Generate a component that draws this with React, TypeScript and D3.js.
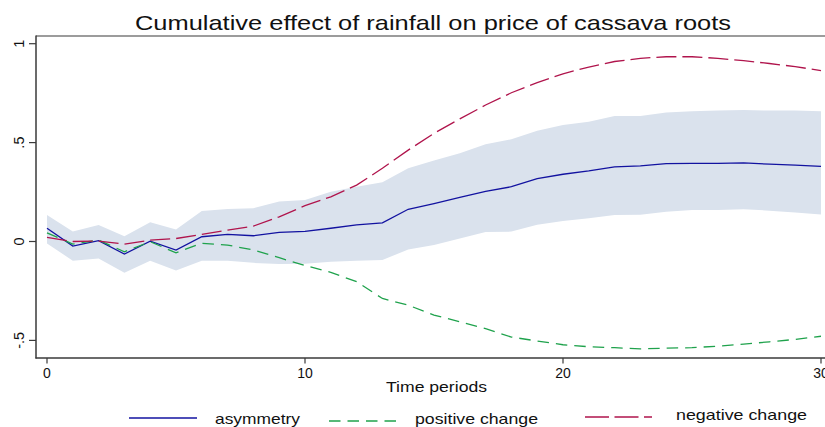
import React from "react";
import * as d3 from "d3";

const periods = d3.range(0, 31);

const asymmetry = [0.067, -0.023, 0.004, -0.063, 0.002, -0.043, 0.024, 0.036, 0.029, 0.046, 0.051, 0.067, 0.084, 0.094, 0.163, 0.192, 0.223, 0.253, 0.277, 0.318, 0.34, 0.357, 0.377, 0.382, 0.394, 0.395, 0.395, 0.397, 0.391, 0.386, 0.38];
const upperCI = [0.134, 0.05, 0.084, 0.027, 0.097, 0.061, 0.154, 0.164, 0.168, 0.202, 0.21, 0.252, 0.277, 0.299, 0.37, 0.409, 0.446, 0.492, 0.517, 0.56, 0.589, 0.606, 0.635, 0.635, 0.652, 0.659, 0.662, 0.665, 0.662, 0.662, 0.659];
const lowerCI = [-0.01, -0.097, -0.086, -0.158, -0.097, -0.147, -0.097, -0.097, -0.108, -0.114, -0.112, -0.102, -0.097, -0.094, -0.04, -0.018, 0.015, 0.048, 0.05, 0.085, 0.104, 0.117, 0.134, 0.135, 0.151, 0.159, 0.159, 0.163, 0.156, 0.147, 0.137];
const negativeChange = [0.021, 0.0, 0.002, -0.013, 0.007, 0.015, 0.036, 0.058, 0.078, 0.125, 0.181, 0.226, 0.285, 0.37, 0.462, 0.547, 0.62, 0.69, 0.752, 0.803, 0.848, 0.882, 0.91, 0.926, 0.934, 0.934, 0.926, 0.914, 0.9, 0.884, 0.864];
const positiveChange = [0.044, -0.013, 0.007, -0.052, -0.001, -0.057, -0.009, -0.018, -0.043, -0.082, -0.121, -0.156, -0.203, -0.288, -0.322, -0.372, -0.406, -0.441, -0.483, -0.503, -0.522, -0.532, -0.537, -0.543, -0.539, -0.537, -0.529, -0.519, -0.507, -0.495, -0.479];

const xTicks = [0, 10, 20, 30];
const yTicks = [-0.5, 0, 0.5, 1];
const yTickLabels = ["-.5", "0", ".5", "1"];

const titleText = "Cumulative effect of rainfall on price of cassava roots";
const xTitle = "Time periods";
const legendLabels = ["asymmetry", "positive change", "negative change"];

const W = 825;
const H = 427;
const FONT = "'Liberation Sans', Arial, Helvetica, sans-serif";

export default function App() {
  const x = d3.scaleLinear().domain([0, 30]).range([47, 821]);
  const y = d3.scaleLinear().domain([-0.5, 1]).range([340.4, 43.7]);

  const area = d3
    .area<number>()
    .x((d) => x(d))
    .y0((d) => y(lowerCI[d]))
    .y1((d) => y(upperCI[d]));

  const mk = (arr: number[]) =>
    d3
      .line<number>()
      .x((d) => x(d))
      .y((d) => y(arr[d]))(periods) || "";

  const axisColor = "#3a3a3a";
  const blue = "#1212a0";
  const green = "#1fa24c";
  const red = "#b0144c";
  const band = "#dae2ed";

  const legend = [
    { label: legendLabels[0], color: blue, dash: "none", x1: 129, x2: 197, ly: 418, tx: 215, tw: 85, ty: 423.5 },
    { label: legendLabels[1], color: green, dash: "11.5 7", x1: 329, x2: 397, ly: 421, tx: 415, tw: 123, ty: 424 },
    { label: legendLabels[2], color: red, dash: "24 5.5", x1: 585, x2: 652, ly: 417, tx: 676, tw: 131, ty: 419.5 },
  ];

  return (
    <svg
      width={W}
      height={H}
      viewBox={`0 0 ${W} ${H}`}
      style={{ position: "absolute", left: 0, top: 0, background: "#fff" }}
      fontFamily={FONT}
    >
      <rect x={0} y={0} width={W} height={H} fill="#fff" />
      <text x={433} y={30} fontSize={21} textAnchor="middle" fill="#111" textLength={596} lengthAdjust="spacingAndGlyphs">
        {titleText}
      </text>

      <path d={area(periods) || ""} fill={band} stroke="none" />
      <path d={mk(asymmetry)} fill="none" stroke={blue} strokeWidth={1.3} />
      <path d={mk(positiveChange)} fill="none" stroke={green} strokeWidth={1.3} strokeDasharray="11.5 7" />
      <path d={mk(negativeChange)} fill="none" stroke={red} strokeWidth={1.3} strokeDasharray="20 6" />

      {/* frame */}
      <line x1={36} x2={W} y1={36} y2={36} stroke={axisColor} strokeWidth={1.2} />
      <line x1={36} x2={36} y1={35.5} y2={358.5} stroke={axisColor} strokeWidth={1.5} />
      <line x1={35.5} x2={W} y1={358} y2={358} stroke={axisColor} strokeWidth={1.5} />

      {yTicks.map((t, i) => (
        <g key={"y" + t}>
          <line x1={29} x2={36} y1={y(t)} y2={y(t)} stroke={axisColor} strokeWidth={1.2} />
          <text
            transform={`translate(23.5,${y(t)}) rotate(-90)`}
            fontSize={14.5}
            textAnchor="middle"
            fill="#111"
          >
            {yTickLabels[i]}
          </text>
        </g>
      ))}

      {xTicks.map((t) => (
        <g key={"x" + t}>
          <line x1={x(t)} x2={x(t)} y1={358} y2={363.5} stroke={axisColor} strokeWidth={1.2} />
          <text x={x(t)} y={378} fontSize={14} textAnchor="middle" fill="#111">
            {String(t)}
          </text>
        </g>
      ))}

      <text x={436.5} y={391.5} fontSize={14.5} textAnchor="middle" fill="#111" textLength={101} lengthAdjust="spacingAndGlyphs">
        {xTitle}
      </text>

      {legend.map((l) => (
        <g key={l.label}>
          <line x1={l.x1} x2={l.x2} y1={l.ly} y2={l.ly} stroke={l.color} strokeWidth={1.3} strokeDasharray={l.dash} />
          <text x={l.tx} y={l.ty} fontSize={14.5} fill="#111" textLength={l.tw} lengthAdjust="spacingAndGlyphs">
            {l.label}
          </text>
        </g>
      ))}
    </svg>
  );
}
